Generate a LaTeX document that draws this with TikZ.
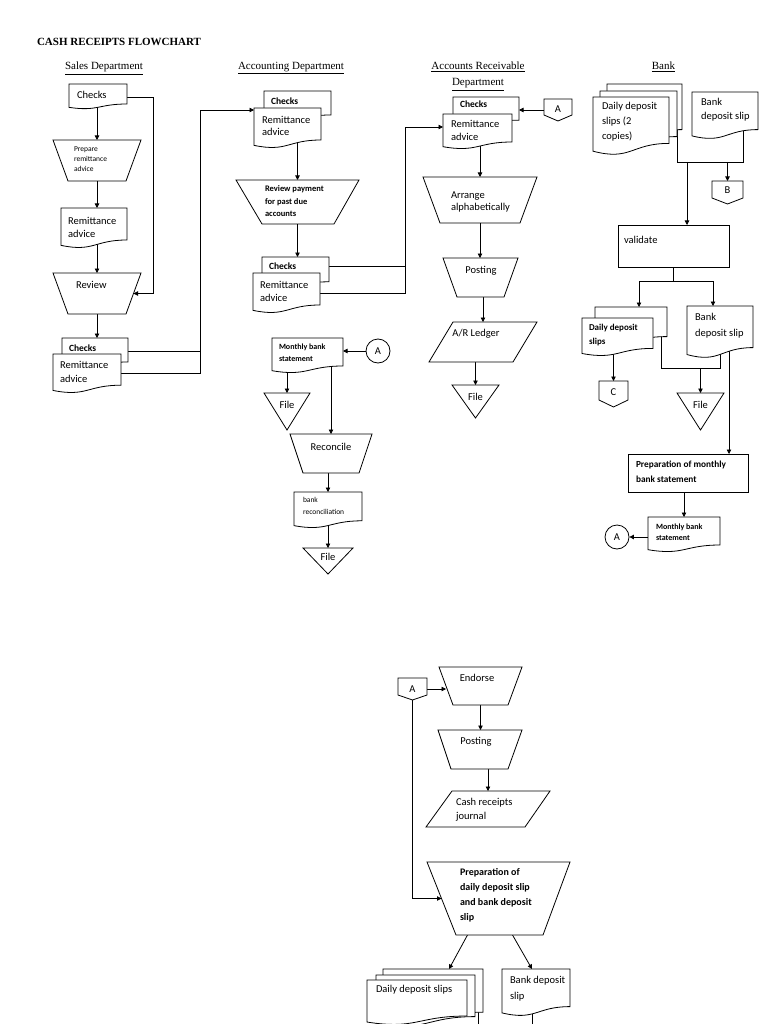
\documentclass[tikz,border=0pt]{standalone}
\usepackage{fontspec}
\setmainfont{Carlito}
\newfontfamily\serifface{Liberation Serif}
\usetikzlibrary{arrows.meta,calc}
\pgfdeclarelayer{bg}
\pgfsetlayers{bg,main}
\newcommand\fsz[2]{\fontsize{#1}{#2}\selectfont}
\tikzset{
  shp/.style={draw=black, fill=white, line width=0.8pt, line join=miter},
  ln/.style={draw=black, line width=0.8pt},
  arr/.style={ln, -{Triangle[length=4.5pt,width=4.5pt]}},
  hole/.style={inner sep=0pt, outer sep=0pt, anchor=north west},
  tx/.style={inner sep=0pt, outer sep=0pt, anchor=base west, align=left},
  tc/.style={inner sep=0pt, outer sep=0pt, anchor=base},
  hd/.style={inner sep=0pt, anchor=base, font=\serifface\fsz{11}{16}},
  conn/.style={circle, draw=black, fill=white, line width=0.8pt, minimum size=24pt, inner sep=0pt, font=\fsz{10.5}{12}},
}
% document shape: name, x1, y1, x2, y-bottom
\newcommand\DocS[5]{%
  \path[shp] (#2,#3) -- (#4,#3) -- (#4,{#3+0.8*(#5-#3)})
    .. controls ({(#2+#4)/2},{#3+0.8*(#5-#3)}) and ({(#2+#4)/2},{#3+1.107*(#5-#3)}) .. (#2,{#3+0.934*(#5-#3)}) -- cycle;
  \node[hole, minimum width={(#4-#2)*1pt}, minimum height={(#5-#3)*1pt}] (#1) at (#2,#3) {};}
% manual operation: name, xtl, xtr, ytop, xbl, xbr, ybottom
\newcommand\TrapS[7]{%
  \path[shp] (#2,#4) -- (#3,#4) -- (#6,#7) -- (#5,#7) -- cycle;
  \node[hole, minimum width={(#3-#2)*1pt}, minimum height={(#7-#4)*1pt}] (#1) at (#2,#4) {};
  \coordinate (#1-e) at ({(#3+#6)/2},{(#4+#7)/2});
  \coordinate (#1-w) at ({(#2+#5)/2},{(#4+#7)/2});}
% merge (file): name, x1, x2, ytop, yapex
\newcommand\FileS[5]{%
  \path[shp] (#2,#4) -- (#3,#4) -- ({(#2+#3)/2},#5) -- cycle;
  \node[hole, minimum width={(#3-#2)*1pt}, minimum height={(#5-#4)*1pt}] (#1) at (#2,#4) {};}
% off-page connector: name, x1, x2, ytop, yside, ypoint
\newcommand\OffS[6]{%
  \path[shp] (#2,#4) -- (#3,#4) -- (#3,#5) -- ({(#2+#3)/2},#6) -- (#2,#5) -- cycle;
  \node[hole, minimum width={(#3-#2)*1pt}, minimum height={(#6-#4)*1pt}] (#1) at (#2,#4) {};}
% parallelogram: name, xtl, xtr, ytop, xbl, xbr, ybottom
\newcommand\ParaS[7]{%
  \path[shp] (#2,#4) -- (#3,#4) -- (#6,#7) -- (#5,#7) -- cycle;
  \node[hole, minimum width={(#3-#5)*1pt}, minimum height={(#7-#4)*1pt}] (#1) at (#5,#4) {};}

\begin{document}
\begin{tikzpicture}[x=1pt,y=-1pt]
\useasboundingbox (0,0) rectangle (768,1024);
\begin{pgfonlayer}{bg}
  \fill[white] (0,0) rectangle (768,1024);
\end{pgfonlayer}

% ---------- titles ----------
\node[tx, font=\serifface\bfseries\fsz{11}{13}] (title) at (37,45.5) {CASH RECEIPTS FLOWCHART};
\node[hd] (h1) at (104,70) {\underline{Sales Department}};
\node[hd] (h2) at (291,69.5) {\underline{Accounting Department}};
\node[hd] (h3) at (478,70) {\underline{Accounts Receivable}};
\node[hd] (h3b) at (478,86) {\underline{Department}};
\node[hd] (h4) at (663.5,69.5) {\underline{Bank}};

% ---------- Sales Department ----------
\DocS{chk1}{69}{84}{127}{109}
\TrapS{prep}{53}{141}{140}{68}{126}{181}
\DocS{rem1}{61}{208}{127}{248}
\TrapS{rev1}{53}{141}{273}{68}{126}{314}
\DocS{chk2}{62}{338}{128}{368}
\DocS{rem2}{53}{354}{121}{393}

% (multi-line texts: anchor base = baseline of the last line)
\node[tx, font=\fsz{10.5}{12}] (t1) at (77,98.5) {Checks};
\node[tx, font=\fsz{7.5}{10}] (t2) at (74,171.5) {Prepare\\remittance\\advice};
\node[tx, font=\fsz{10.5}{12.5}] (t3) at (68,237) {Remittance\\advice};
\node[tx, font=\fsz{10.5}{12}] (t4) at (76,288.5) {Review};
\node[tx, font=\bfseries\fsz{9.5}{12}] (t5) at (69,351) {Checks};
\node[tx, font=\fsz{10.5}{14}] (t6) at (60,382.5) {Remittance\\advice};

% ---------- Accounting Department ----------
\DocS{chk3}{264}{91}{331}{121}
\DocS{rem3}{254}{108}{321}{148}
\TrapS{prv}{236}{359}{180}{262}{334}{224}
\DocS{chk4}{262}{257}{329}{288}
\DocS{rem5}{253}{273}{320}{313}

\node[tx, font=\bfseries\fsz{9.5}{12}] (t7) at (271,105) {Checks};
\node[tx, font=\fsz{10.5}{12.5}] (t8) at (262,136) {Remittance\\advice};
\node[tx, font=\bfseries\fsz{8.5}{12.5}] (t9) at (265,216.5) {Review payment\\for past due\\accounts};
\node[tx, font=\bfseries\fsz{9.5}{12}] (t10) at (269,269.5) {Checks};
\node[tx, font=\fsz{10.5}{13}] (t11) at (260,301.5) {Remittance\\advice};

\DocS{mbs1}{272}{338}{343}{373}
\node[conn] (A3) at (378,351) {A};
\FileS{fil1}{264}{310}{393}{430}
\TrapS{rec}{290}{372}{434}{303}{359}{473}
\DocS{brec}{294}{492}{362}{528}
\FileS{fil2}{303}{353}{548}{574}

\node[tx, font=\bfseries\fsz{8}{12}] (t18) at (279,361.5) {Monthly bank\\statement};
\node[tc, font=\fsz{10.5}{12}] (t19) at (287,408.5) {File};
\node[tc, font=\fsz{10.5}{12}] (t20) at (331,450.5) {Reconcile};
\node[tx, font=\fsz{7.5}{12}] (t21) at (303,514.5) {bank\\reconciliation};
\node[tc, font=\fsz{10.5}{12}] (t22) at (328,560.5) {File};

% ---------- Accounts Receivable ----------
\DocS{chk5}{453}{97}{519}{126}
\DocS{rem4}{443}{114}{512}{149}
\OffS{A1}{544}{572}{99}{115}{121}
\TrapS{arng}{423}{537}{177}{440}{520}{223}
\TrapS{post}{443}{518}{258}{457}{504}{297}
\ParaS{arl}{453}{537}{322}{429}{513}{362}
\FileS{fil4}{452}{499}{385}{418}

\node[tx, font=\bfseries\fsz{9.5}{12}] (t12) at (460,108) {Checks};
\node[tx, font=\fsz{10.5}{13}] (t13) at (451,140.5) {Remittance\\advice};
\node[tc, font=\fsz{10.5}{12}] (tA1) at (558,113) {A};
\node[tx, font=\fsz{10.5}{12}] (t14) at (451,211) {Arrange\\alphabetically};
\node[tc, font=\fsz{10.5}{12}] (t15) at (481,273.5) {Posting};
\node[tc, font=\fsz{10.5}{12}] (t16) at (476,336.5) {A/R Ledger};
\node[tc, font=\fsz{10.5}{12}] (t17) at (475.5,400) {File};

% ---------- Bank ----------
\DocS{bk1}{607}{84}{682}{141}
\DocS{bk2}{600}{91}{677}{148}
\DocS{bk3}{593}{97}{669}{155}
\DocS{bds1}{692}{92}{758}{139}
\OffS{B1}{712}{743}{181}{198}{204}
\node[shp, hole, minimum width=111pt, minimum height=42pt] (val) at (618,225) {};
\DocS{dds1}{595}{307}{667}{344}
\DocS{dds2}{582}{318}{653}{356}
\DocS{bds2}{687}{306}{753}{358}
\OffS{C1}{599}{628}{381}{400}{407}
\FileS{fil3}{677}{724}{393}{430}
\node[shp, hole, minimum width=120pt, minimum height=38pt] (pm) at (628,454) {};
\DocS{mbs2}{648}{517}{720}{552}
\node[conn] (A2) at (617,537) {A};

\node[tx, font=\fsz{10.5}{15}] (t23) at (602,139.5) {Daily deposit\\slips (2\\copies)};
\node[tx, font=\fsz{10.5}{14}] (t24) at (701,119.5) {Bank\\deposit slip};
\node[tc, font=\fsz{10.5}{12}] (t25) at (727.5,193.5) {B};
\node[tx, font=\fsz{10.5}{12}] (t26) at (624,243.5) {validate};
\node[tx, font=\bfseries\fsz{9}{14}] (t27) at (589,344) {Daily deposit\\slips};
\node[tx, font=\fsz{10.5}{16}] (t28) at (695,336.5) {Bank\\deposit slip};
\node[tc, font=\fsz{10.5}{12}] (t29) at (613.5,395) {C};
\node[tc, font=\fsz{10.5}{12}] (t30) at (700.5,408.5) {File};
\node[tx, font=\bfseries\fsz{9.3}{15}] (t31) at (636,482) {Preparation of monthly\\bank statement};
\node[tx, font=\bfseries\fsz{8}{11.5}] (t32) at (656,540.5) {Monthly bank\\statement};

% ---------- Lower section ----------
\OffS{A4}{398}{427}{678}{695}{700}
\TrapS{endo}{439}{522}{667}{453}{508}{705}
\TrapS{pst2}{438}{522}{730}{451}{508}{769}
\ParaS{crj}{452}{550}{791}{426}{525}{827}
\TrapS{prd}{427}{570}{862}{456}{543}{935}
\DocS{dsA}{383}{969}{483}{1023}
\DocS{dsB}{376}{975}{475}{1027}
\DocS{dsC}{367}{980}{467}{1025}
\DocS{bdsB}{502}{969}{570}{1016}

\node[tc, font=\fsz{10.5}{12}] (t33) at (412.5,692) {A};
\node[tc, font=\fsz{10.5}{12}] (t34) at (477,681) {Endorse};
\node[tc, font=\fsz{10.5}{12}] (t35) at (476,744.5) {Posting};
\node[tx, font=\fsz{10.5}{14}] (t36) at (456,819) {Cash receipts\\journal};
\node[tx, font=\bfseries\fsz{10}{14.7}] (t37) at (460,920) {Preparation of\\daily deposit slip\\and bank deposit\\slip};
\node[tx, font=\fsz{10.5}{12}] (t38) at (376,992.5) {Daily deposit slips};
\node[tx, font=\fsz{10.5}{16}] (t39) at (510,999.5) {Bank deposit\\slip};

% ---------- connectors ----------
\coordinate (j0) at (153,97);
\coordinate (j1) at (200,110);
\coordinate (j2) at (405,127);
\coordinate (c2o) at ($(chk2.center)+(0,-2)$);
\coordinate (c4o) at ($(chk4.center)+(0,-6)$);
\coordinate (j4) at (677,162);
\coordinate (j5) at (743,162);
\coordinate (j6) at (687,162);
\coordinate (j7) at (639,281);
\coordinate (j8) at (713,281);
\coordinate (j9) at (661,368);
\coordinate (j10) at (720,368);
\coordinate (j11) at (729,454);
\coordinate (jz1) at (478,1024);
\coordinate (jz2) at (532,1024);

\begin{pgfonlayer}{bg}
  % sales
  \draw[arr] (chk1.center |- j0) -- (j0) |- (rev1-e);
  \draw[arr] (chk1.center -| prep.north) -- (prep.north);
  \draw[arr] (prep.south) -- (prep.south |- rem1.north);
  \draw[arr] (rem1.center -| rev1.north) -- (rev1.north);
  \draw[arr] (rev1.south) -- (rev1.south |- chk2.north);
  \draw[ln] (rem2.center) -| (j1);
  \draw[ln] (c2o) -- (c2o -| j1);
  \draw[arr] (j1) -- (j1 -| rem3.west);
  % accounting
  \draw[arr] (rem3.center -| prv.north) -- (prv.north);
  \draw[arr] (prv.south) -- (prv.south |- chk4.north);
  \draw[ln] (rem5.center) -| (j2);
  \draw[ln] (c4o) -- (c4o -| j2);
  \draw[arr] (j2) -- (j2 -| rem4.west);
  \draw[arr] (A3.west) -- (A3.west -| mbs1.east);
  \draw[arr] (mbs1.center -| fil1.north) -- (fil1.north);
  \draw[arr] (mbs1.center -| rec.north) -- (rec.north);
  \draw[arr] (rec.south -| brec.north) -- (brec.north);
  \draw[arr] (brec.center -| fil2.north) -- (fil2.north);
  % accounts receivable
  \draw[arr] (A1.west) -- (A1.west -| chk5.east);
  \draw[arr] (rem4.center -| arng.north) -- (arng.north);
  \draw[arr] (arng.south) -- (arng.south |- post.north);
  \draw[arr] (post.south -| arl.north) -- (arl.north);
  \draw[arr] (arl.south -| fil4.north) -- (fil4.north);
  % bank
  \draw[ln] (bk2.center -| j4) -- (j4) -- (j5) -- (bds1.center -| j5);
  \draw[arr] (B1.north |- j4) -- (B1.north);
  \draw[arr] (j6) -- (j6 |- val.north);
  \draw[ln] (val.south) -- (val.south |- j7);
  \draw[ln] (j7) -- (j8);
  \draw[arr] (j7) -- (j7 |- dds1.north);
  \draw[arr] (j8) -- (j8 |- bds2.north);
  \draw[ln] (dds1.center -| j9) -- (j9) -- (j10) -- (bds2.center -| j10);
  \draw[arr] (fil3.north |- j9) -- (fil3.north);
  \draw[arr] (dds2.center -| C1.north) -- (C1.north);
  \draw[arr] (bds2.center -| j11) -- (j11 |- pm.north);
  \draw[arr] (pm.south -| mbs2.north) -- (mbs2.north);
  \draw[arr] (A2.east -| mbs2.west) -- (A2.east);
  % lower section
  \draw[arr] (A4.east) -- (A4.east -| endo-w);
  \draw[arr] (A4.south) |- (prd-w);
  \draw[arr] (endo.south) -- (endo.south |- pst2.north);
  \draw[arr] (pst2.south -| crj.north) -- (crj.north);
  \draw[arr] ($(prd.south)+(-31,0)$) -- ($(dsA.north)+(16,0)$);
  \draw[arr] ($(prd.south)+(14,0)$) -- ($(bdsB.north)+(-4,0)$);
  \draw[ln] (dsA.center -| jz1) -- (jz1);
  \draw[ln] (bdsB.center -| jz2) -- (jz2);
\end{pgfonlayer}
\end{tikzpicture}
\end{document}
